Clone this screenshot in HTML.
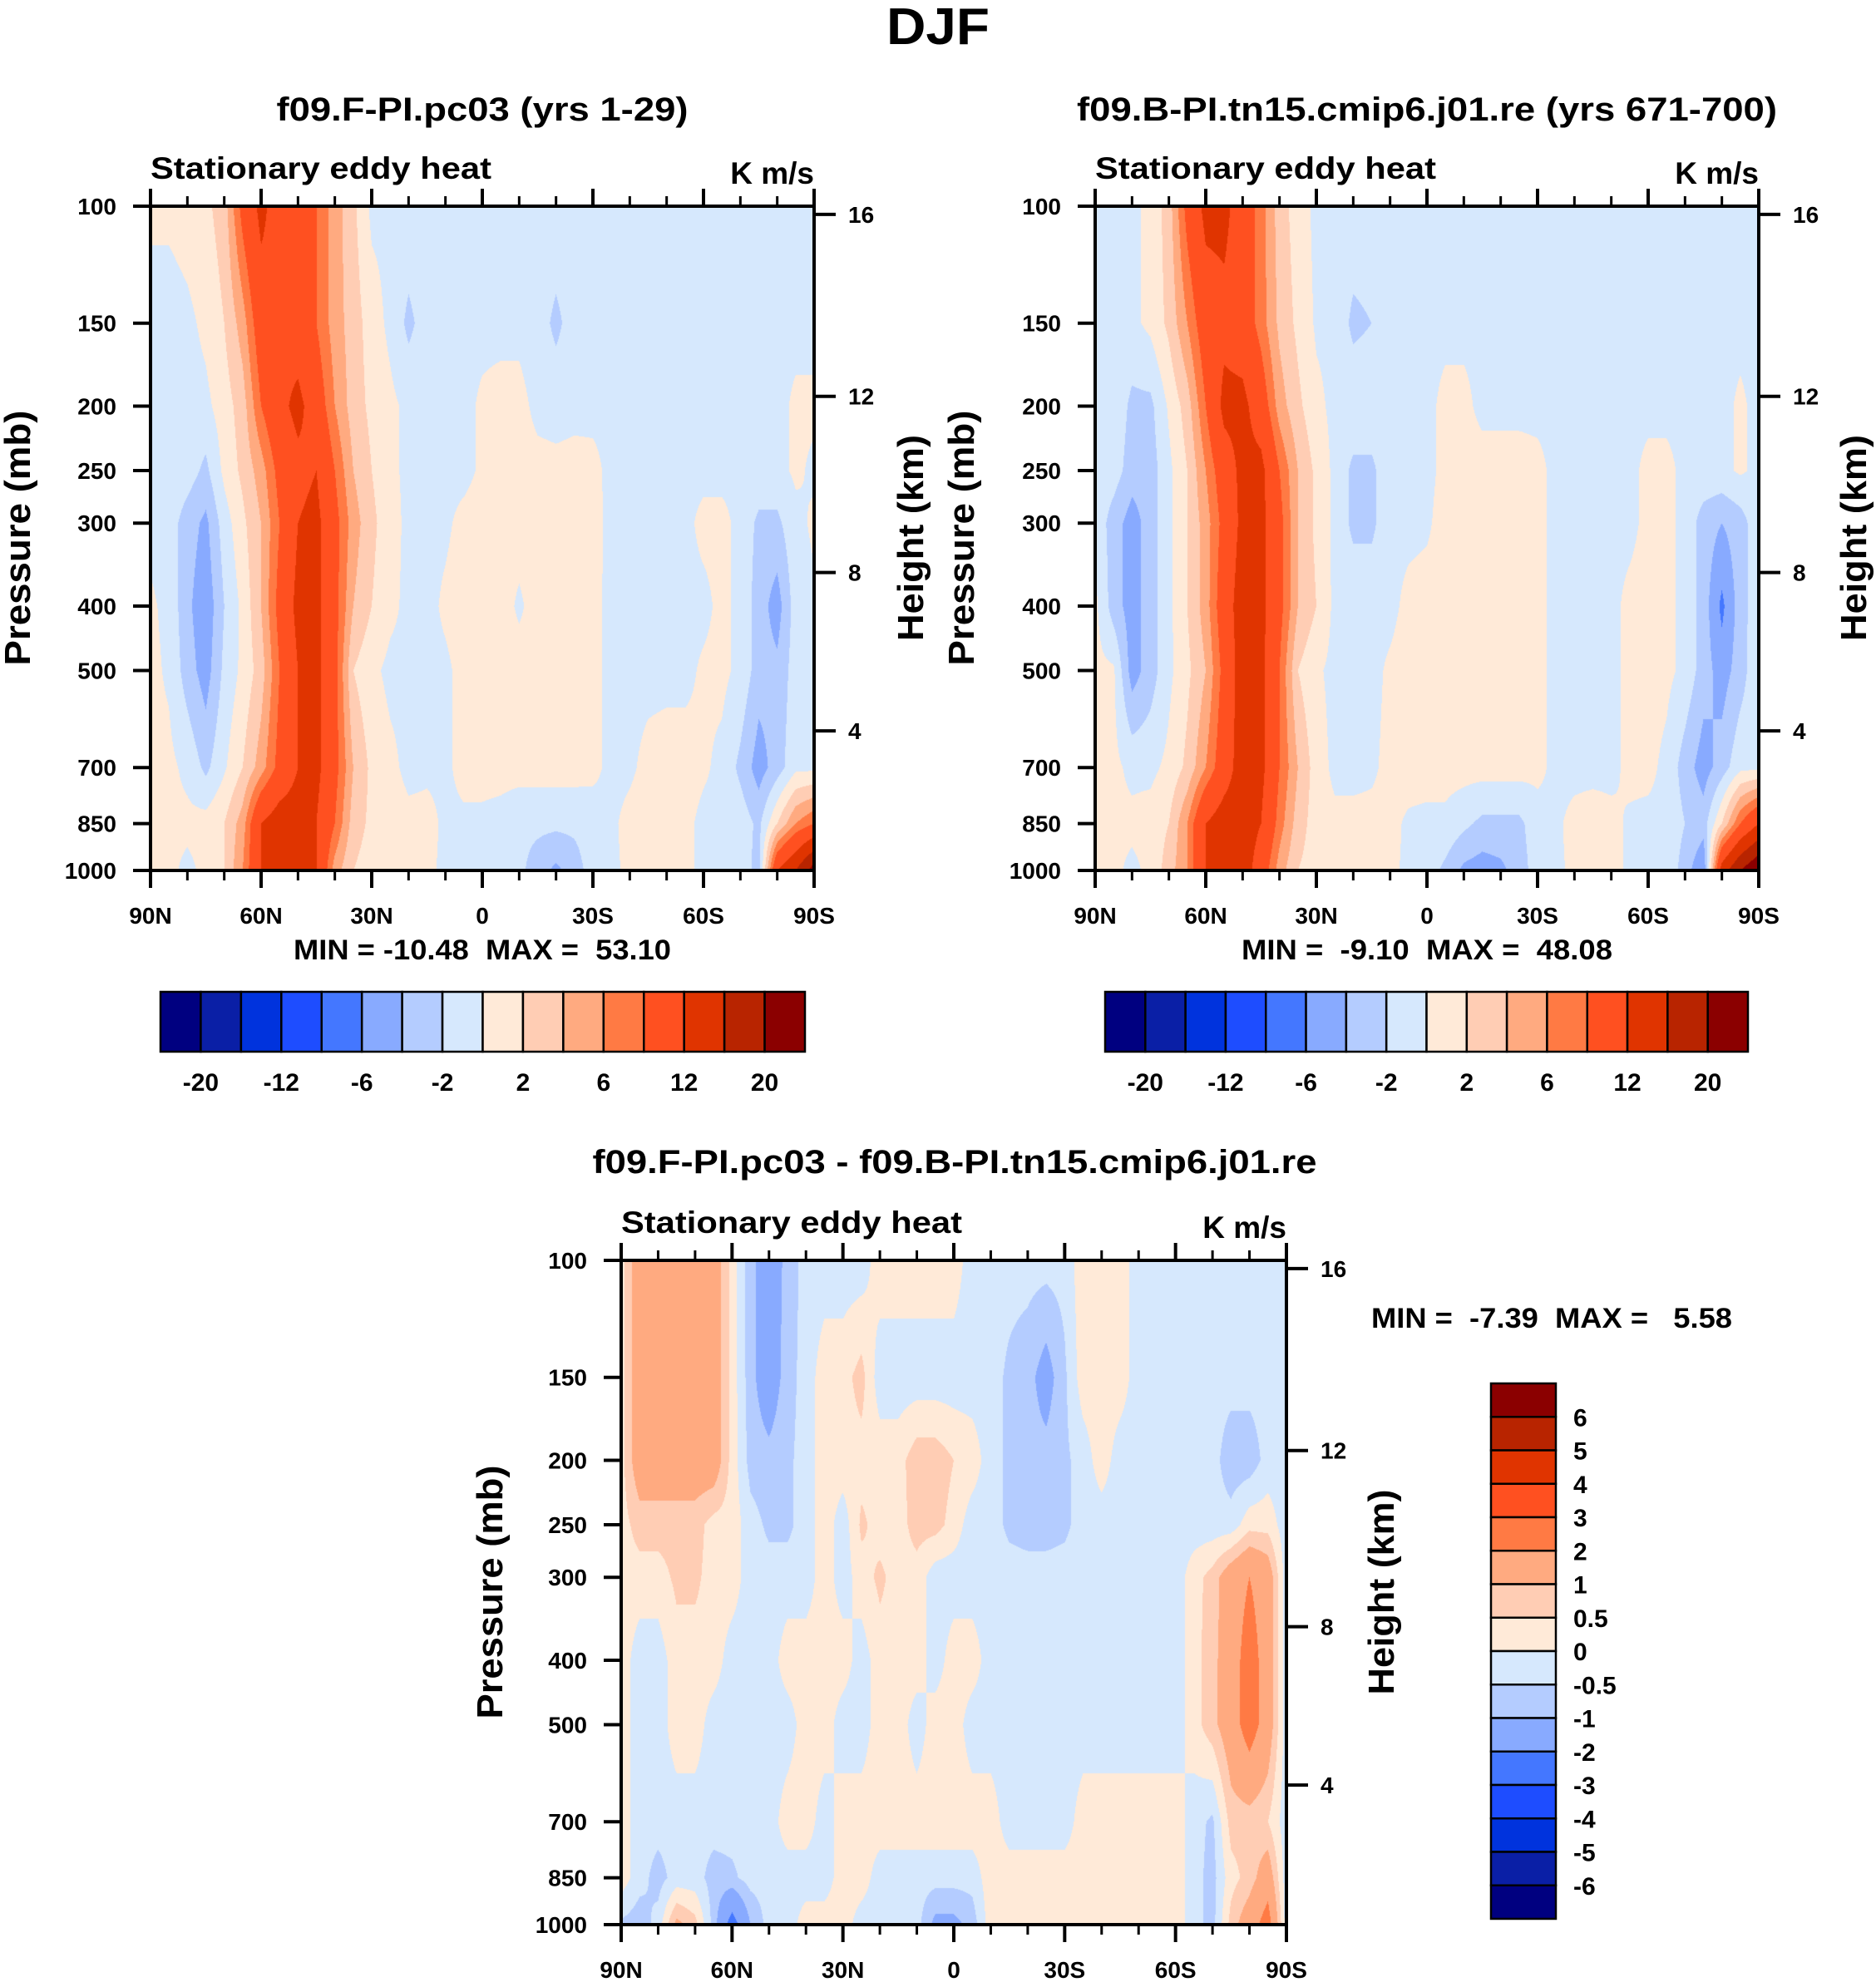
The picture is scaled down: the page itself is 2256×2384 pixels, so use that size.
<!DOCTYPE html>
<html><head><meta charset="utf-8"><title>DJF Stationary eddy heat</title>
<style>
html,body{margin:0;padding:0;background:#fff;}
#root{position:relative;width:2256px;height:2384px;overflow:hidden;background:#fff;}
canvas{position:absolute;}
#ov{position:absolute;left:0;top:0;}
text{font-family:"Liberation Sans",Arial,sans-serif;font-weight:bold;fill:#000;white-space:pre;}
</style></head>
<body>
<div id="root">
<canvas id="c1"></canvas>
<canvas id="c2"></canvas>
<canvas id="c3"></canvas>
<svg id="ov" width="2256" height="2384" xmlns="http://www.w3.org/2000/svg" xml:space="preserve"></svg>
</div>
<script>
// ---- data ----
const lats = [90,85,80,75,70,65,60,55,50,45,40,35,30,25,20,15,10,5,0,-5,-10,-15,-20,-25,-30,-35,-40,-45,-50,-55,-60,-65,-70,-75,-80,-85,-90];
const plevs = [100,150,200,250,300,400,500,700,850,1000];
const ptickLabels = [100,150,200,250,300,400,500,700,850,1000];
const heightTicks = [4,8,12,16];
const latTicks = [90,60,30,0,-30,-60,-90];
const latTickLabels = ['90N','60N','30N','0','30S','60S','90S'];

const f1_100 = [0.5,0.5,1,1.5,3,9,13,10,9,8,5,2.5,-0.5,-0.5,-0.5,-0.5,-0.5,-0.5,-0.5,-0.5,-0.5,-0.5,-0.5,-0.5,-0.5,-0.5,-0.5,-0.5,-0.5,-0.5,-0.5,-0.5,-0.5,-0.5,-0.5,-0.5,-0.5];
const f1_150 = [-1,-1,-0.5,0.5,2,5,10,11,10,8,5,3,1,-0.5,-2.5,-1,-0.5,-0.5,-0.5,-0.5,-0.5,-1,-2.5,-1,-0.5,-0.5,-0.5,-0.5,-0.5,-0.5,-0.5,-0.5,-0.5,-0.5,-0.5,-0.5,-0.5];
const f1_200 = [-1,-1,-1,-0.5,1,3,8,11,13,10,6,3,1.5,0.5,-0.5,-0.5,-0.5,-0.5,0.3,0.6,0.6,-0.5,-0.7,-0.5,-0.5,-0.5,-0.5,-0.5,-0.5,-0.5,-0.5,-0.5,-0.5,-0.5,-0.5,0.3,0.3];
const f1_250 = [-0.5,-0.5,-1,-2.5,0.5,2.5,5,9,11,12,8,4,2,0.5,-0.5,-0.5,-0.5,-0.5,0.3,0.8,0.8,0.6,0.5,0.6,0.5,-0.5,-0.5,-0.5,-0.5,-0.5,-0.5,-0.5,-0.5,-0.5,-0.5,0.3,-0.3];
const f1_300 = [-0.5,-1,-3,-4.5,-1,1.5,4,8,12,13,9,5,2.5,0.8,-0.5,-0.5,-0.3,0.5,0.8,0.8,0.8,0.8,0.8,0.8,0.6,-0.5,-0.5,-0.5,-0.5,-0.5,0.5,0.5,-0.5,-2.5,-2.5,-0.5,0.3];
const f1_400 = [0.3,-0.5,-3.5,-5.5,-2,0.5,4,9,13,13,9,4,2,0.5,-0.5,-0.5,0.3,0.8,0.8,0.8,-0.3,0.8,0.8,0.8,0.5,-0.5,-0.5,-0.5,-0.5,-0.5,-0.5,0.5,-0.5,-3,-5,-1,-0.3];
const f1_500 = [0.5,-0.3,-3,-5,-1.5,0.5,3,8,12,13,9,2,0.5,-0.5,-0.5,-0.5,-0.3,0.5,0.5,0.8,0.8,0.8,0.8,0.8,0.5,-0.5,-0.5,-0.5,-0.5,-0.5,0.3,0.5,-0.5,-3,-3.5,-1,0];
const f1_700 = [0.5,0.5,-0.5,-2.5,-0.3,2,5,9,12,13,9,4,1.5,0.5,-0.5,-0.3,-0.3,0.5,0.8,0.8,0.8,0.8,0.8,0.8,0.5,-0.5,-0.3,0.5,0.8,0.8,0.3,-0.5,-2.5,-5,-3,-0.5,-0.5];
const f1_850 = [0.5,0.5,0.5,0.8,2,5,12,14,14,12,8,3,1.5,1,0.5,0.5,-0.3,-0.3,-0.5,-0.8,-1.5,-1.5,-1.5,-1.5,-1,-0.3,0.5,0.8,0.8,0.5,-0.5,-0.5,-0.8,-2.5,2,6,8];
const f1_1000 = [0.5,0.5,-0.5,0.5,2,6,12,14,14,12,5,2,1,0.5,0.3,0.3,-0.3,-0.3,-1,-1.5,-1.5,-3,-4.5,-3,-1,-0.3,0.3,0.5,0.5,0.3,-0.3,-0.5,-0.5,-3,12,16,22];

const f2_100 = [-0.5,-0.5,-0.5,0.5,3,9,13,13,10,7,3,1,-0.5,-0.5,-0.5,-0.5,-0.5,-0.5,-0.5,-0.5,-0.5,-0.5,-0.5,-0.5,-0.5,-0.5,-0.5,-0.5,-0.5,-0.5,-0.5,-0.5,-0.5,-0.5,-0.5,-0.5,-0.5];
const f2_150 = [-0.5,-0.5,-0.5,0.5,2.5,6,10,11,10,7,3.5,1.5,-0.3,-0.5,-2.5,-2,-0.5,-0.5,-0.5,-0.5,-0.5,-0.5,-0.5,-0.5,-0.5,-0.5,-0.5,-0.5,-0.5,-0.5,-0.5,-0.5,-0.5,-0.5,-0.5,-0.5,-0.5];
const f2_200 = [-0.5,-0.5,-2.5,-2.5,0.3,3,8,13,13,10,5,2.5,0.5,-0.5,-0.5,-0.5,-0.5,-0.5,-0.5,0.5,0.5,-0.5,-0.5,-0.5,-0.5,-0.5,-0.5,-0.5,-0.5,-0.5,-0.5,-0.5,-0.5,-0.5,-0.5,0.3,-0.5];
const f2_250 = [-0.5,-1,-3,-3,-0.5,2,6,10,13,13,8,4,1.5,-0.5,-2.5,-2.5,-0.5,-0.5,-0.5,0.5,0.8,0.8,0.8,0.8,0.5,-0.5,-0.5,-0.5,-0.5,-0.5,0.5,0.5,-0.5,-0.5,-0.5,0.3,-0.5];
const f2_300 = [-0.5,-3,-5,-3,-0.5,2,5,9,13,13,9,4,1.5,-0.5,-2.5,-2.5,-0.5,-0.5,-0.3,0.8,0.8,0.8,0.8,0.8,0.5,-0.5,-0.5,-0.5,-0.5,-0.5,0.5,0.5,-0.5,-3,-4,-3,-0.5];
const f2_400 = [0.5,-3,-5,-3,-0.5,2,5,10,14,13,9,4,2,-0.5,-0.5,-0.5,-0.5,0.5,0.8,0.8,0.8,0.8,0.8,0.8,0.5,-0.5,-0.5,-0.5,-0.5,0.5,0.8,0.5,-0.5,-3,-6.5,-3,-0.5];
const f2_500 = [0.5,0.3,-5,-3,-0.5,1.5,4,9,14,13,8,2,0.3,-0.5,-0.5,-0.5,0.3,0.8,0.8,0.8,0.8,0.8,0.8,0.8,0.5,-0.5,-0.5,-0.5,-0.5,0.5,0.8,0.5,-0.5,-3,-5,-3,-0.3];
const f2_700 = [0.5,0.5,-0.5,-0.5,0.5,2.5,6,10,14,13,8,4,1,-0.5,-0.5,-0.3,0.5,0.8,0.8,0.8,0.8,0.8,0.8,0.8,0.5,-0.5,-0.5,-0.5,-0.5,0.5,0.5,-0.5,-3,-5,-3,-0.5,-0.5];
const f2_850 = [0.5,0.5,0.5,0.8,2,6,12,14,14,12,7,3,1,0.5,0.5,0.5,0.5,-0.3,-0.5,-0.5,-1.5,-2.5,-2.5,-2.5,-0.8,-0.3,0.5,0.8,0.5,-0.3,-0.5,-0.5,-2,-3,2,8,12];
const f2_1000 = [0.5,0.5,-0.5,0.5,3,6,12,15,14,10,5,2,1,0.5,0.5,0.5,0.3,-0.3,-1,-2.5,-4.5,-5,-4.5,-3,-1,-0.3,0.3,0.5,0.5,-0.3,-0.5,-0.5,-3,-6,14,20,24];

const f3_100 = [0.3,1.5,1.5,1.5,1.5,1.5,0.3,-0.8,-1.5,-0.8,-0.3,-0.3,-0.3,-0.3,0.3,0.3,0.3,0.3,0.3,-0.3,-0.3,-0.3,-0.3,-0.3,-0.3,0.3,0.3,0.3,-0.3,-0.3,-0.3,-0.3,-0.3,-0.3,-0.3,-0.3,-0.3];
const f3_150 = [0.3,1.5,1.5,1.5,1.5,1.5,0.3,-0.8,-1.5,-0.7,-0.3,0.3,0.3,0.7,-0.3,-0.3,-0.3,-0.3,-0.3,-0.3,-0.3,-0.6,-0.8,-1.3,-0.6,0.3,0.3,0.3,-0.3,-0.3,-0.3,-0.3,-0.3,-0.3,-0.3,-0.3,-0.3];
const f3_200 = [0.3,1.5,1.5,1.5,1.5,1.5,0.3,-0.7,-0.8,-0.6,-0.3,0.3,0.3,0.3,0.3,0.3,0.8,0.8,0.5,0.3,-0.3,-0.6,-0.8,-0.8,-0.6,-0.3,0.3,-0.3,-0.3,-0.3,-0.3,-0.3,-0.3,-0.8,-0.8,-0.3,-0.3];
const f3_250 = [0.3,0.7,0.7,0.7,0.7,0.3,0.3,-0.3,-0.6,-0.6,-0.3,0.3,-0.3,0.6,0.3,0.3,0.7,0.7,0.3,-0.3,-0.3,-0.6,-0.7,-0.7,-0.6,-0.3,-0.3,-0.3,-0.3,-0.3,-0.3,-0.3,-0.3,-0.3,0.3,0.3,-0.3];
const f3_300 = [0.3,0.3,0.3,0.6,0.6,0.3,0.3,-0.3,-0.3,-0.3,-0.3,0.3,-0.3,0.3,0.6,0.3,0.3,-0.3,-0.3,-0.3,-0.3,-0.3,-0.3,-0.3,-0.3,-0.3,-0.3,-0.3,-0.3,-0.3,-0.3,0.3,0.7,1.5,2,1.5,-0.3];
const f3_400 = [0.3,-0.3,-0.3,0.3,0.3,0.3,-0.3,-0.3,-0.3,0.3,0.3,0.3,0.3,-0.3,0.3,0.3,0.3,-0.3,0.3,0.3,-0.3,-0.3,-0.3,-0.3,-0.3,-0.3,-0.3,-0.3,-0.3,-0.3,-0.3,0.3,0.8,1.5,2.5,1.5,-0.3];
const f3_500 = [0.3,-0.3,-0.3,0.3,0.3,-0.3,-0.3,-0.3,-0.3,-0.3,0.3,0.3,-0.3,-0.3,0.3,0.3,-0.3,0.3,0.3,-0.3,-0.3,-0.3,-0.3,-0.3,-0.3,-0.3,-0.3,-0.3,-0.3,-0.3,-0.3,0.3,0.8,1.5,2.5,1.5,-0.3];
const f3_700 = [0.3,-0.3,-0.3,-0.3,-0.3,-0.3,-0.3,-0.3,-0.3,0.3,0.3,-0.3,0.3,0.3,0.3,0.3,0.3,0.3,0.3,0.3,0.3,-0.3,-0.3,-0.3,-0.3,0.3,0.3,0.3,0.3,0.3,0.3,-0.3,-0.6,0.7,0.7,0.5,-0.3];
const f3_850 = [0.3,-0.3,-0.7,-0.3,-0.3,-0.7,-0.6,-0.3,-0.3,-0.3,-0.3,-0.3,0.3,0.3,-0.3,-0.3,-0.3,-0.3,-0.3,-0.3,0.3,0.3,0.3,0.3,0.3,0.3,0.3,0.3,0.3,0.3,0.3,-0.3,-0.7,0.3,0.7,1.5,-0.3];
const f3_1000 = [-0.6,-0.8,-0.3,1.2,0.7,-0.7,-2.5,-1,-0.3,-0.3,0.3,0.3,0.3,-0.3,-0.3,-0.3,-0.3,-1.2,-1.2,-0.8,0.3,0.3,0.3,0.3,0.3,0.3,0.3,0.3,0.3,0.3,0.3,-0.3,-0.7,0.7,1.5,2.5,-0.3];

const field1 = [f1_100,f1_150,f1_200,f1_250,f1_300,f1_400,f1_500,f1_700,f1_850,f1_1000];
const field2 = [f2_100,f2_150,f2_200,f2_250,f2_300,f2_400,f2_500,f2_700,f2_850,f2_1000];
const field3 = [f3_100,f3_150,f3_200,f3_250,f3_300,f3_400,f3_500,f3_700,f3_850,f3_1000];

const levelsMain = [-20,-16,-12,-8,-6,-4,-2,0,2,4,6,8,12,16,20];
const levelsMainLabels = ['-20','-12','-6','-2','2','6','12','20'];
const levelsDiff = [-6,-5,-4,-3,-2,-1,-0.5,0,0.5,1,2,3,4,5,6];
const levelsDiffLabels = ['6','5','4','3','2','1','0.5','0','-0.5','-1','-2','-3','-4','-5','-6'];
const cmap = ['#000080','#0a1fa6','#0033dd','#1e4dff','#4477ff','#88aaff','#b4ccff','#d6e8fd','#ffead8','#ffcdb4','#ffaa80','#ff7a44','#ff5020','#e03400','#b82400','#8b0000'];

// ---- helpers ----
const NS='http://www.w3.org/2000/svg';
const svg=document.getElementById('ov');
function el(tag,attrs,txt){const e=document.createElementNS(NS,tag);for(const k in attrs)e.setAttribute(k,attrs[k]);if(txt!==undefined)e.textContent=txt;svg.appendChild(e);return e;}
function hex2rgb(h){return [parseInt(h.substr(1,2),16),parseInt(h.substr(3,2),16),parseInt(h.substr(5,2),16)];}
const rgb=cmap.map(hex2rgb);
function colorIdx(v,levels){let i=0;while(i<levels.length&&v>=levels[i])i++;return i;}
const logp=plevs.map(p=>Math.log10(p));
function pToFrac(p){return Math.log10(p)-2;}
function latToFrac(lat){return (90-lat)/180;}
function zToP(z){return z<=11?1013.25*Math.pow(1-z*6.5/288.15,5.2559):226.32*Math.exp(-(z-11)/6.3416);}

function renderField(id,L,T,W,H,field,levels){
  const c=document.getElementById(id);c.width=W;c.height=H;c.style.left=L+'px';c.style.top=T+'px';
  const ctx=c.getContext('2d');const img=ctx.createImageData(W,H);const d=img.data;
  const nl=lats.length;
  for(let py=0;py<H;py++){
    const lp=2+(py+0.5)/H;
    let k=0;while(k<logp.length-2&&lp>logp[k+1])k++;
    let ty=(lp-logp[k])/(logp[k+1]-logp[k]);ty=Math.max(0,Math.min(1,ty));
    const r0=field[k],r1=field[k+1];
    for(let px=0;px<W;px++){
      const fx=(px+0.5)/W*(nl-1);let j=Math.floor(fx);if(j>=nl-1)j=nl-2;const tx=fx-j;
      const a=r0[j]*(1-tx)+r0[j+1]*tx,b=r1[j]*(1-tx)+r1[j+1]*tx;
      const v=a*(1-ty)+b*ty;
      const col=rgb[colorIdx(v,levels)];const o=(py*W+px)*4;
      d[o]=col[0];d[o+1]=col[1];d[o+2]=col[2];d[o+3]=255;
    }
  }
  ctx.putImageData(img,0,0);
}

function axes(L,T,W,H,name){
  const fr=el('rect',{x:L,y:T,width:W,height:H,fill:'none',stroke:'#000','stroke-width':4});
  
  
  ptickLabels.forEach(p=>{
    const y=T+pToFrac(p)*H;
    const t=el('line',{x1:L-21,x2:L,y1:y,y2:y,stroke:'#000','stroke-width':4});
    
    
    const lb=el('text',{x:L-41,y:y+10,'font-size':28,'text-anchor':'end'},String(p));
    
    
  });
  heightTicks.forEach(z=>{
    const y=T+pToFrac(zToP(z))*H;
    const t=el('line',{x1:L+W,x2:L+W+26,y1:y,y2:y,stroke:'#000','stroke-width':4});
    
    
    const lb=el('text',{x:L+W+41,y:y+10,'font-size':28},String(z));
    
    
  });
  for(let lat=90;lat>=-90;lat-=10){
    const x=L+latToFrac(lat)*W;const major=(lat%30===0);const len=major?21:12;
    const t1=el('line',{x1:x,x2:x,y1:T-len,y2:T,stroke:'#000','stroke-width':major?4:3});
    
    
    const t2=el('line',{x1:x,x2:x,y1:T+H,y2:T+H+len,stroke:'#000','stroke-width':major?4:3});
    
    
  }
  latTicks.forEach((lat,i)=>{
    const x=L+latToFrac(lat)*W;
    const lb=el('text',{x:x,y:T+H+64,'font-size':28,'text-anchor':'middle'},latTickLabels[i]);
    
    
  });
  const s=el('text',{x:L,y:T-33,'font-size':37,textLength:410,lengthAdjust:'spacingAndGlyphs'},'Stationary eddy heat');
  
  
  const u=el('text',{x:L+W,y:T-27,'font-size':37,'text-anchor':'end'},'K m/s');
  
  
}
function rotText(x,y,txt,len,name){
  const t=el('text',{x:0,y:0,'font-size':44,'text-anchor':'middle',transform:'translate('+x+','+y+') rotate(-90)',textLength:len,lengthAdjust:'spacingAndGlyphs'},txt);
  
  
}
function hbar(L,T,W,H,levels,labels,name){
  const n=cmap.length,bw=W/n;
  cmap.forEach((c,i)=>{
    const r=el('rect',{x:L+i*bw,y:T,width:bw,height:H,fill:c,stroke:'#000','stroke-width':2.5});
    
    
  });
  labels.forEach((lab,i)=>{
    const x=L+(2*i+1)*bw;
    const t=el('text',{x:x,y:T+H+47,'font-size':30,'text-anchor':'middle'},lab);
    
    
  });
}
function vbar(L,T,W,H,labels,name){
  const n=cmap.length,bh=H/n;
  cmap.slice().reverse().forEach((c,i)=>{
    const r=el('rect',{x:L,y:T+i*bh,width:W,height:bh,fill:c,stroke:'#000','stroke-width':2.5});
    
    
  });
  labels.forEach((lab,i)=>{
    const y=T+(i+1)*bh;
    const t=el('text',{x:L+W+21,y:y+11,'font-size':30},lab);
    
    
  });
}
function txt(x,y,s,size,anchor,len,name){
  const a={x:x,y:y,'font-size':size,'text-anchor':anchor};
  if(len){a.textLength=len;a.lengthAdjust='spacingAndGlyphs';}
  const t=el('text',a,s);
  
  
}

// ---- panels ----
renderField('c1',181,248,798,799,field1,levelsMain);
renderField('c2',1317,248,798,799,field2,levelsMain);
renderField('c3',747,1516,800,799,field3,levelsDiff);

txt(1128,53,'DJF',62,'middle',124,'main-title');
txt(580,145,'f09.F-PI.pc03 (yrs 1-29)',40,'middle',495,'panel1-title');
txt(1716,145,'f09.B-PI.tn15.cmip6.j01.re (yrs 671-700)',40,'middle',842,'panel2-title');
txt(1148,1411,'f09.F-PI.pc03 - f09.B-PI.tn15.cmip6.j01.re',40,'middle',871,'diff-title');

axes(181,248,798,799,'panel1');
axes(1317,248,798,799,'panel2');
axes(747,1516,800,799,'diff');

rotText(36,647,'Pressure (mb)',307,'panel1-y-axis-title');
rotText(1171,647,'Pressure (mb)',307,'panel2-y-axis-title');
rotText(604,1915,'Pressure (mb)',305,'diff-y-axis-title');
rotText(1110,647,'Height (km)',248,'panel1-right-axis-title');
rotText(2244,647,'Height (km)',248,'panel2-right-axis-title');
rotText(1676,1915,'Height (km)',247,'diff-right-axis-title');

txt(580,1154,'MIN = -10.48  MAX =  53.10',34,'middle',454,'panel1-minmax');
txt(1716,1154,'MIN =  -9.10  MAX =  48.08',34,'middle',446,'panel2-minmax');
txt(1866,1597,'MIN =  -7.39  MAX =   5.58',34,'middle',434,'diff-minmax');

hbar(193,1193,775,72,levelsMain,levelsMainLabels,'panel1-colorbar');
hbar(1329,1193,773,72,levelsMain,levelsMainLabels,'panel2-colorbar');
vbar(1793,1664,78,644,levelsDiffLabels,'diff-colorbar');
</script>
</body></html>
